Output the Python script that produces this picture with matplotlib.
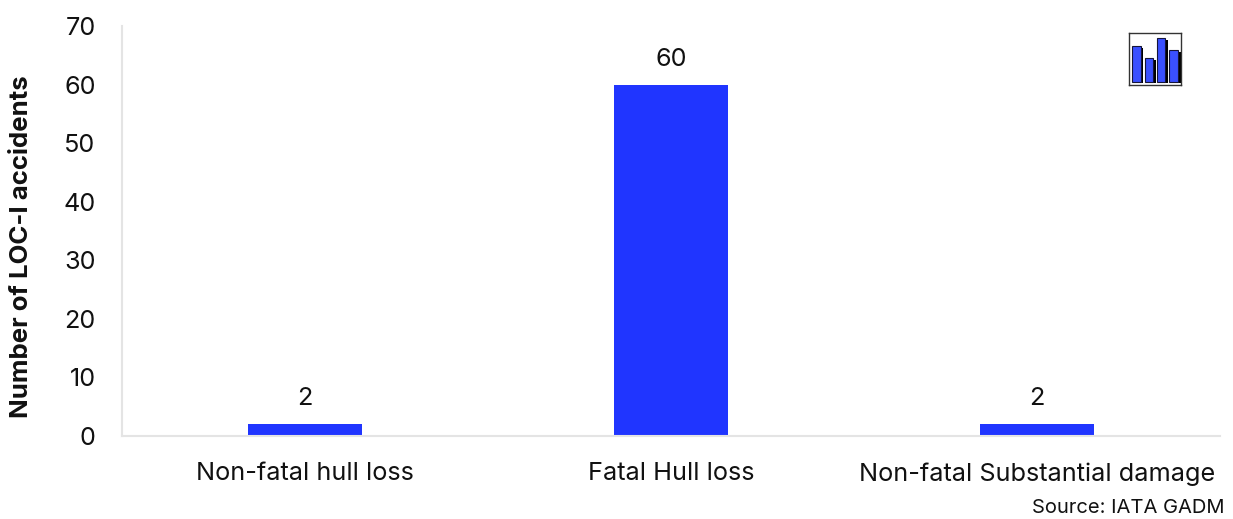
import matplotlib
matplotlib.use("Agg")
import matplotlib.pyplot as plt

plt.rcParams['font.family'] = ['Inter', 'DejaVu Sans']

# chart data
categories = ["Non-fatal hull loss", "Fatal Hull loss", "Non-fatal Substantial damage"]
accidents = [2, 60, 2]
yticks = [0, 10, 20, 30, 40, 50, 60, 70]

# little bar chart icon, top right
icon_values = [36, 24, 44, 32]

W, H = 1233, 519
fig = plt.figure(figsize=(W/100, H/100), dpi=100)
ax = fig.add_axes([122/W, 1-436/H, (1220-122)/W, (436-26)/H])

x = range(len(categories))
ax.bar(x, accidents, width=0.313, color="#2035ff")
ax.set_xlim(-0.5, 2.5)
ax.set_ylim(0, 70)
ax.set_xticks(list(x))
ax.set_xticklabels(categories, fontsize=18.2, color="#111111")
ax.tick_params(axis='y', length=0, labelsize=18.2, labelcolor="#111111", pad=19)
ax.set_yticks(yticks)
ax.tick_params(axis='x', length=0, pad=19)
for s in ["top", "right"]:
    ax.spines[s].set_visible(False)
for s in ["left", "bottom"]:
    ax.spines[s].set_color("#e4e4e4")
    ax.spines[s].set_linewidth(1.5)

for i, v in zip(x, accidents):
    ax.annotate(str(v), (i, v), xytext=(0, 10), textcoords="offset points",
                ha="center", va="bottom", fontsize=18.2, color="#111111")

fig.text(22/W, 1-247/H, "Number of LOC-I accidents", rotation=90, ha="center", va="center",
         fontsize=18.6, fontweight="bold", color="#111111")
fig.text(1225/W, 1-508/H, "Source: IATA GADM", ha="right", va="center",
         fontsize=14.5, color="#111111")

# icon
icon = fig.add_axes([1129/W, 1-85/H, 52/W, 52/H])
ix = [0, 1, 2, 3]
icon.bar([i+0.2 for i in ix], [v-1 for v in icon_values], width=0.72, color="black")
icon.bar(ix, icon_values, width=0.66, color="#3a50ff", edgecolor="#15153a", linewidth=0.8, bottom=1.5)
icon.set_xlim(-0.6, 3.6)
icon.set_ylim(-1.5, 50)
icon.set_xticks([])
icon.set_yticks([])
for s in icon.spines.values():
    s.set_color("#333333")
    s.set_linewidth(1)

fig.savefig("out.png", dpi=100)
